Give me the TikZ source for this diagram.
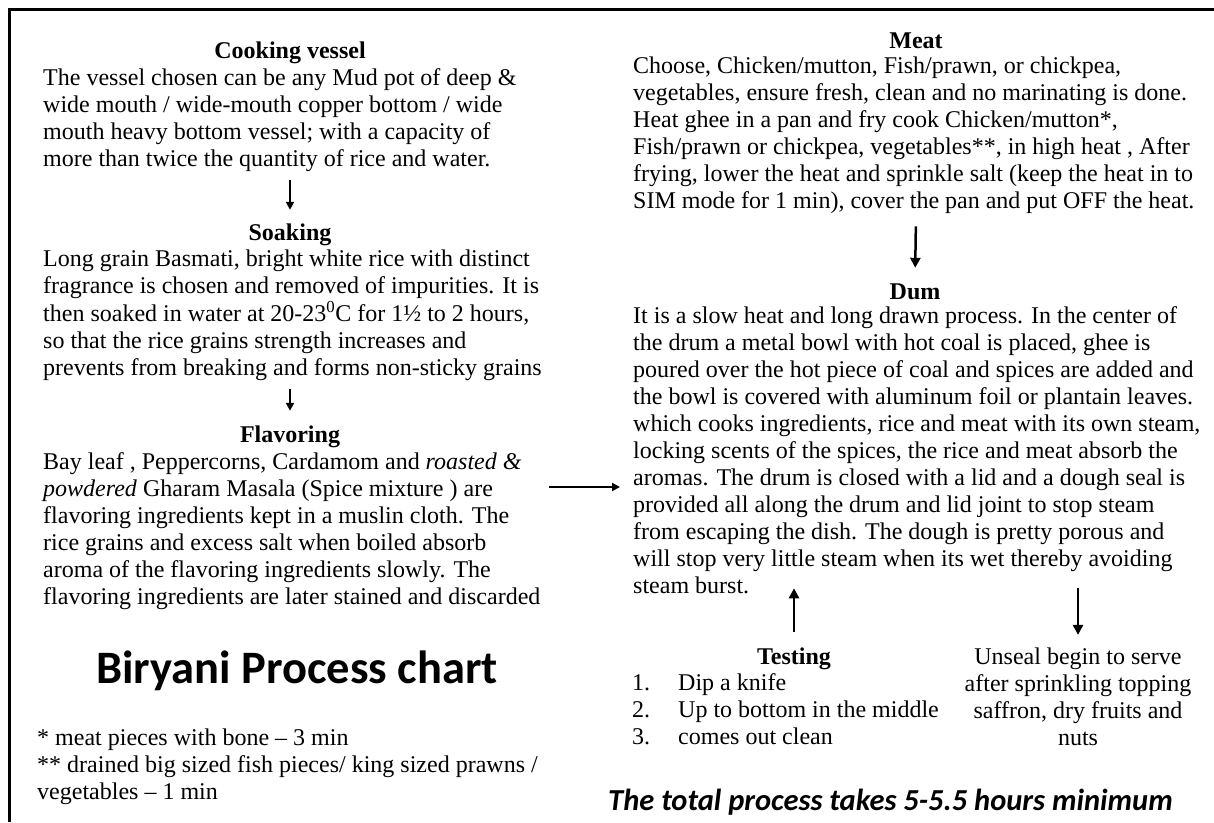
\documentclass[tikz,border=0pt]{standalone}
\usepackage{fontspec}
\setmainfont{Liberation Serif}
\newfontfamily\carlito{Carlito}
\usetikzlibrary{arrows.meta}
\newcommand{\lblk}[1]{\begin{tabular}[t]{@{}l@{}}#1\end{tabular}}
\newcommand{\cblk}[1]{\begin{tabular}[t]{@{}c@{}}#1\end{tabular}}
\begin{document}
\begin{tikzpicture}[x=1pt,y=-1pt,
  body/.style={inner sep=0pt, font=\fontsize{24}{27}\selectfont},
  ttl/.style={inner sep=0pt, anchor=base, font=\fontsize{24}{27}\selectfont\bfseries, text height=17pt, text depth=5pt},
  arr/.style={line width=2.5pt, -{Triangle[width=10pt,length=10pt]}},
  thinarr/.style={line width=2pt, -{Triangle[width=8pt,length=8pt]}},
]
\useasboundingbox (0,0) rectangle (1214,822);
\fill[white] (0,0) rectangle (1214,822);
\draw[line width=3pt] (1214,9.5) -- (9.5,9.5) -- (9.5,822);

% left column
\node[ttl] (cv) at (290,58) {Cooking vessel};
\node[body, anchor=base west] (cvt) at (43,85) {\lblk{The vessel chosen can be any Mud pot of deep \&\\ wide mouth / wide-mouth copper bottom / wide\\ mouth heavy bottom vessel; with a capacity of\\ more than twice the quantity of rice and water.}};

\node[ttl] (sk) at (290,240) {Soaking};
\node[body, anchor=base west] (skt) at (43,266) {\lblk{Long grain Basmati, bright white rice with distinct\\ fragrance is chosen and removed of impurities. It is\\ then soaked in water at 20-23\textsuperscript{0}C for 1½ to 2 hours,\\ so that the rice grains strength increases and\\ prevents from breaking and forms non-sticky grains}};

\node[ttl] (fl) at (290,442) {Flavoring};
\node[body, anchor=base west] (flt) at (43,469) {\lblk{Bay leaf , Peppercorns, Cardamom and \textit{roasted \&}\\ \textit{powdered} Gharam Masala (Spice mixture ) are\\ flavoring ingredients kept in a muslin cloth. The\\ rice grains and excess salt when boiled absorb\\ aroma of the flavoring ingredients slowly. The\\ flavoring ingredients are later stained and discarded}};

\node[anchor=base, inner sep=0pt, font=\carlito\bfseries\fontsize{46.5}{50}\selectfont] (title) at (297,683) {Biryani Process chart};

\node[body, anchor=base west] (fn) at (37,745) {\lblk{* meat pieces with bone – 3 min\\ \relax** drained big sized fish pieces/ king sized prawns /\\ vegetables – 1 min}};

% right column
\node[ttl] (mt) at (916,48) {Meat};
\node[body, anchor=base west] (mtt) at (633,73) {\lblk{Choose, Chicken/mutton, Fish/prawn, or chickpea,\\ vegetables, ensure fresh, clean and no marinating is done.\\ Heat ghee in a pan and fry cook Chicken/mutton*,\\ Fish/prawn or chickpea, vegetables**, in high heat , After\\ frying, lower the heat and sprinkle salt (keep the heat in to\\ SIM mode for 1 min), cover the pan and put OFF the heat.}};

\node[ttl] (dm) at (915,299) {Dum};
\node[body, anchor=base west] (dmt) at (633,323) {\lblk{It is a slow heat and long drawn process. In the center of\\ the drum a metal bowl with hot coal is placed, ghee is\\ poured over the hot piece of coal and spices are added and\\ the bowl is covered with aluminum foil or plantain leaves.\\ which cooks ingredients, rice and meat with its own steam,\\ locking scents of the spices, the rice and meat absorb the\\ aromas. The drum is closed with a lid and a dough seal is\\ provided all along the drum and lid joint to stop steam\\ from escaping the dish. The dough is pretty porous and\\ will stop very little steam when its wet thereby avoiding\\ steam burst.}};

\node[ttl] (ts) at (794,664) {Testing};
\node[body, anchor=base west] (tst) at (632,690) {\begin{tabular}[t]{@{}p{46pt}@{}l@{}}1.&Dip a knife\\ 2.&Up to bottom in the middle\\ 3.&comes out clean\end{tabular}};

\node[body, anchor=base] (us) at (1078,664) {\cblk{Unseal begin to serve\\ after sprinkling topping\\ saffron, dry fruits and\\ nuts}};

\node[anchor=base west, inner sep=0pt, font=\carlito\bfseries\itshape\fontsize{30.5}{33}\selectfont] (tot) at (608,810) {The total process takes 5-5.5 hours minimum};

% connectors
\draw[thinarr, shorten <=6pt, shorten >=13pt] (cvt.south -| cv.center) -- (sk.north);
\draw[thinarr, shorten <=5pt, shorten >=14pt] (skt.south -| sk.center) -- (fl.north);
\coordinate (ra) at (549,487);
\draw[thinarr, shorten >=13pt] (ra) -- (dmt.west |- ra);
\draw[arr, shorten <=10pt, shorten >=14pt] (mtt.south -| mt.center) -- (dm.north);
\draw[arr, shorten <=15pt, shorten >=-13pt] (ts.north) -- (dmt.south -| ts.north);
\draw[arr, shorten <=-13pt, shorten >=10pt] (dmt.south -| us.north) -- (us.north);
\end{tikzpicture}
\end{document}
